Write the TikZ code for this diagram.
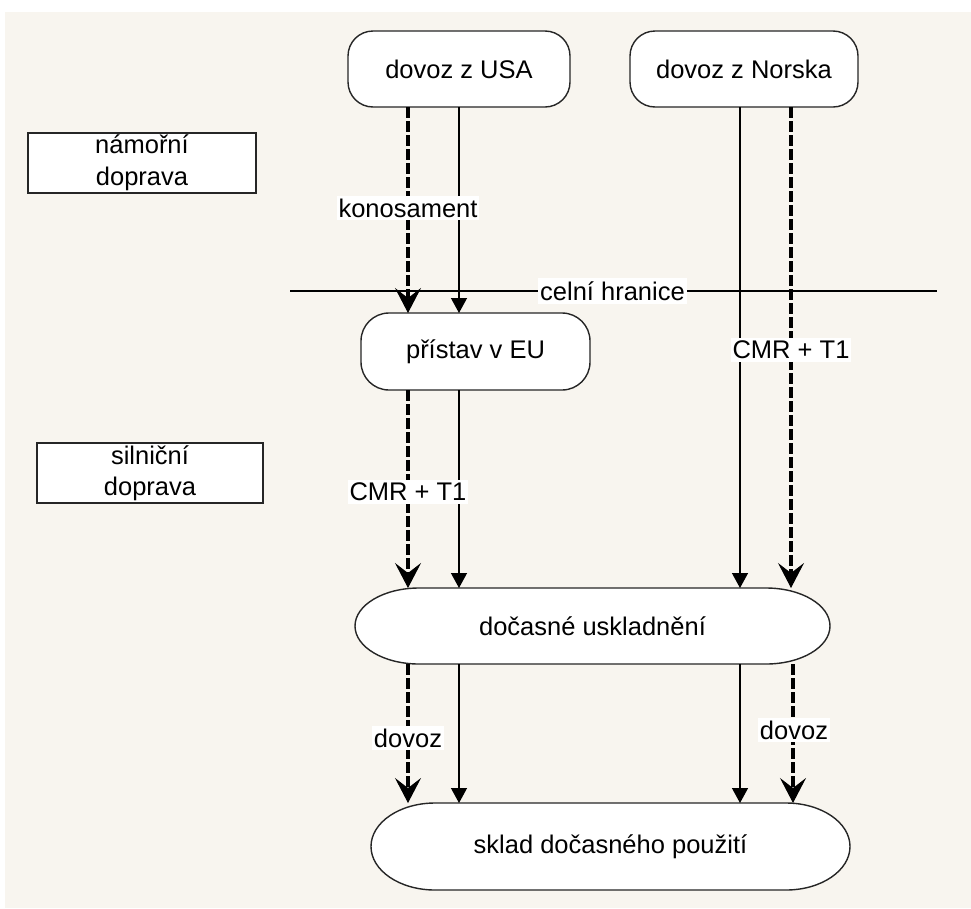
\documentclass[tikz,border=0pt]{standalone}
\usepackage{fontspec}
\setmainfont{Liberation Sans}
\usetikzlibrary{arrows.meta}
\definecolor{paper}{HTML}{F8F5EF}
\pgfdeclarelayer{backdrop}
\pgfdeclarelayer{outline}
\pgfsetlayers{backdrop,outline,main}

\begin{document}
\begin{tikzpicture}[x=1pt,y=-1pt,
  every node/.style={font=\fontsize{25.5pt}{31.5pt}\selectfont, text=black},
  place/.style={draw=black!85, line width=1.4pt, fill=white, rounded corners=25pt,
                outer sep=0pt, inner sep=0pt},
  silo/.style={outer sep=0pt, inner sep=0pt},
  silooutline/.style={draw=black!85, line width=1.4pt, fill=white},
  mode/.style={draw=black!85, line width=2pt, fill=white, align=center,
               inner sep=0pt, outer sep=0pt},
  flow/.style={line width=1.3pt, -{Triangle[length=15pt,width=16pt]}},
  doc/.style={line width=4.5pt, dash pattern=on 11pt off 3pt,
              -{Stealth[length=25pt,width=26pt,inset=10pt,line width=1pt]}},
  tag/.style={fill=white, inner xsep=2pt, inner ysep=3pt},
  border/.style={line width=1.3pt}
]
\useasboundingbox (0,0) rectangle (971,908);

% page background
\begin{pgfonlayer}{backdrop}
  \fill[white] (0,0) rectangle (971,908);
  \fill[paper] (5,12) rectangle (971,908);
\end{pgfonlayer}

% places of origin and transit
\node[place, minimum width=222pt, minimum height=76pt] (usa) at (459,69) {dovoz z USA};
\node[place, minimum width=228pt, minimum height=76pt] (nor) at (744,69) {dovoz z Norska};
\node[place, rounded corners=28pt, minimum width=229pt, minimum height=77pt] (port) at (475.5,351.5) {přístav v EU};

% storage stages (elliptical ends drawn below)
\node[silo, minimum width=475pt, minimum height=76pt] (temp) at (592.5,626) {dočasné uskladnění};
\node[silo, minimum width=479pt, minimum height=87pt] (store) at (610.5,846.5) {sklad dočasného použití};

\begin{pgfonlayer}{outline}
  \filldraw[silooutline] ([xshift=64pt]temp.north west) -- ([xshift=-64pt]temp.north east)
    arc[start angle=90,end angle=-90,x radius=64pt,y radius=38pt]
    -- ([xshift=64pt]temp.south west)
    arc[start angle=270,end angle=90,x radius=64pt,y radius=38pt] -- cycle;
  \filldraw[silooutline] ([xshift=64pt]store.north west) -- ([xshift=-64pt]store.north east)
    arc[start angle=90,end angle=-90,x radius=64pt,y radius=43.5pt]
    -- ([xshift=64pt]store.south west)
    arc[start angle=270,end angle=90,x radius=64pt,y radius=43.5pt] -- cycle;
\end{pgfonlayer}

% transport modes
\node[mode, minimum width=228pt, minimum height=60pt] (sea) at (142,163) {námořní\\doprava};
\node[mode, minimum width=226pt, minimum height=60pt] (road) at (150,473) {silniční\\doprava};

% customs border
\coordinate (hl) at (290,291);
\coordinate (hr) at (937,291);
\draw[border] (hl) -- (hr);

% goods and document flows
\draw[doc]  (408,0 |- usa.south)  -- (408,0 |- port.north);
\draw[flow] (459,0 |- usa.south)  -- (459,0 |- port.north);
\draw[doc]  (408,0 |- port.south) -- (408,0 |- temp.north);
\draw[flow] (459,0 |- port.south) -- (459,0 |- temp.north);
\draw[flow] (740,0 |- nor.south)  -- (740,0 |- temp.north);
\draw[doc]  (791,0 |- nor.south)  -- (791,0 |- temp.north);
\draw[doc]  (408,0 |- temp.south) -- (408,0 |- store.north);
\draw[flow] (459,0 |- temp.south) -- (459,0 |- store.north);
\draw[flow] (740,0 |- temp.south) -- (740,0 |- store.north);
\draw[doc]  (793,0 |- temp.south) -- (793,0 |- store.north);

% labels
\node[tag] (hn) at (612.5,291) {celní hranice};
\node[tag] (t1) at (408,208) {konosament};
\node[tag] (t2) at (408,492) {CMR + T1};
\node[tag] (t3) at (791,350) {CMR + T1};
\node[tag] (t4) at (408,738) {dovoz};
\node[tag] (t5) at (794,730) {dovoz};
\end{tikzpicture}
\end{document}
